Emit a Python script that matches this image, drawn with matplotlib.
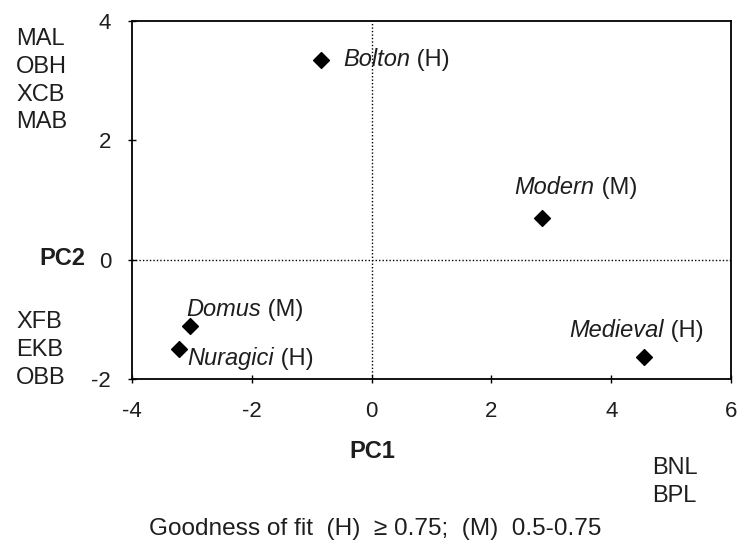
import matplotlib.pyplot as plt

plt.rcParams['font.family'] = ['Liberation Sans', 'DejaVu Sans']
plt.rcParams['axes.unicode_minus'] = False

names = ["Bolton", "Modern", "Medieval", "Domus", "Nuragici"]
fit = ["(H)", "(M)", "(H)", "(M)", "(H)"]
pc1 = [-0.85, 2.85, 4.55, -3.03, -3.22]
pc2 = [3.35, 0.69, -1.63, -1.12, -1.50]
# label offsets (points) from each point to the label baseline start
offsets = [(16, -4.7), (-20, 17.6), (-54, 14), (-3, 7.9), (6.5, -11.5)]

upper_vars = ["MAL", "OBH", "XCB", "MAB"]
lower_vars = ["XFB", "EKB", "OBB"]
right_vars = ["BNL", "BPL"]

fs = 17
col = "#1e1e1e"
W, H = 737, 545
fig = plt.figure(figsize=(W / 100, H / 100), dpi=100)
ax = fig.add_axes([132 / W, 1 - 379 / H, 599 / W, 358 / H])

ax.scatter(pc1, pc2, marker="D", s=65, color="black", zorder=3)
ax.axhline(0, color="black", linestyle=(0, (1, 1.5)), linewidth=1)
ax.axvline(0, color="black", linestyle=(0, (1, 1.5)), linewidth=1)

for x, y, n, f, off in zip(pc1, pc2, names, fit, offsets):
    t = ax.annotate(n, (x, y), xytext=off, textcoords="offset points",
                    fontsize=fs, style="italic", va="baseline", ha="left",
                    color=col)
    ax.annotate(" " + f, (1, 0), xycoords=t, fontsize=fs, va="bottom",
                ha="left", color=col)

ax.set_xlim(-4, 6)
ax.set_ylim(-2, 4)
ax.set_xticks([-4, -2, 0, 2, 4, 6])
ax.set_yticks([-2, 0, 2, 4])
ax.tick_params(direction="inout", length=6, width=1, labelsize=16,
               labelcolor=col)
ax.tick_params(axis="x", pad=13)
ax.tick_params(axis="y", pad=12)
for s in ax.spines.values():
    s.set_linewidth(1.3)


def put(x, y, s, size=fs, **kw):
    # x, y in pixels from top-left, y is the text baseline
    fig.text(x / W, 1 - y / H, s, fontsize=size, va="baseline", color=col,
             **kw)


for i, v in enumerate(upper_vars):
    put(16, 45 + 27.8 * i, v)
for i, v in enumerate(lower_vars):
    put(16, 328 + 27.8 * i, v)
for i, v in enumerate(right_vars):
    put(652, 474 + 27.8 * i, v)
put(85, 265, "PC2", weight="bold", ha="right")
put(372, 458.5, "PC1", weight="bold", ha="center")
put(149, 535, "Goodness of fit  (H)  \u2265 0.75;  (M)  0.5-0.75", size=17.6)

fig.savefig("out.png", dpi=100)
